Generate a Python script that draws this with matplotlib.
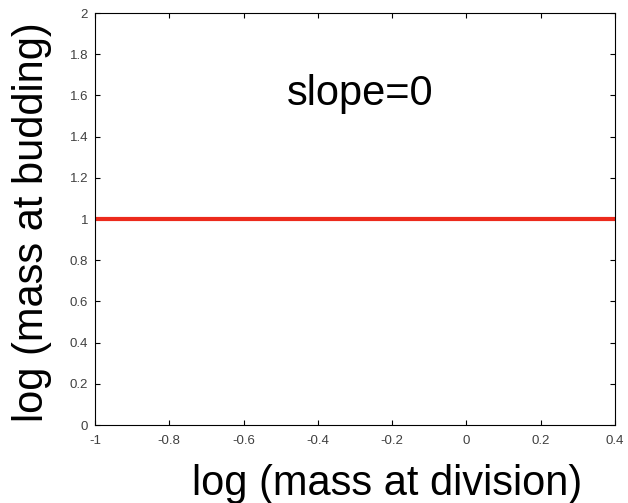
import matplotlib
matplotlib.use("Agg")
import matplotlib.pyplot as plt
import numpy as np

plt.rcParams['font.family'] = ['Liberation Sans', 'DejaVu Sans']

x_vals = [-1, 0.4]
y_vals = [1, 1]
x_ticks = [-1, -0.8, -0.6, -0.4, -0.2, 0, 0.2, 0.4]
x_tick_labels = ["-1", "-0.8", "-0.6", "-0.4", "-0.2", "0", "0.2", "0.4"]
y_ticks = [0, 0.2, 0.4, 0.6, 0.8, 1, 1.2, 1.4, 1.6, 1.8, 2]
y_tick_labels = ["0", "0.2", "0.4", "0.6", "0.8", "1", "1.2", "1.4", "1.6", "1.8", "2"]

W, H = 628, 503
fig = plt.figure(figsize=(W/100, H/100), dpi=100)
ax = fig.add_axes([95/W, 1-425/H, (615-95)/W, (425-13)/H])
ax.plot(x_vals, y_vals, color='#ec2a1c', linewidth=3.0, solid_capstyle='butt')
ax.set_xlim(-1, 0.4)
ax.set_ylim(0, 2)
ax.set_xticks(x_ticks)
ax.set_xticklabels(x_tick_labels)
ax.set_yticks(y_ticks)
ax.set_yticklabels(y_tick_labels)
ax.tick_params(direction='in', top=True, right=True, labelsize=9.5, labelcolor='#404040', length=3.6, width=0.8)
ax.tick_params(axis='x', pad=7)
ax.tick_params(axis='y', pad=5)
for s in ax.spines.values():
    s.set_linewidth(0.8)
fig.text(387/W, 1-495/H, 'log (mass at division)', fontsize=30, ha='center', va='baseline')
fig.text(12/W, 1-222/H, 'log (mass at budding)', fontsize=30, rotation=90, ha='left', va='center')
ax.text(-0.483, 1.553, 'slope=0', fontsize=30, va='baseline', ha='left')
fig.savefig('out.png', dpi=100)
